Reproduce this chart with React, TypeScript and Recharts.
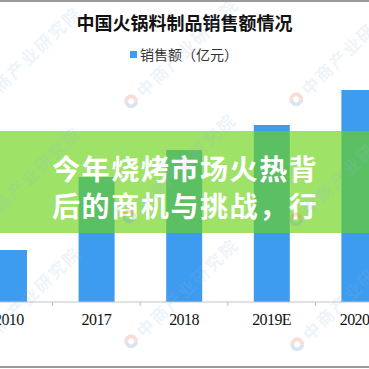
import React from "react";
import { Bar, BarChart, Legend, XAxis, YAxis } from "recharts";

const years = ["2010", "2017", "2018", "2019E", "2020E"];
const sales = [154, 371, 451, 525, 629];
const seriesName = "销售额（亿元）";
const title = "中国火锅料制品销售额情况";
const bannerLines = ["今年烧烤市场火热背", "后的商机与挑战，行"];
const watermarkText = "中商产业研究院";

const chartData = years.map((year, i) => ({ year, sales: sales[i] }));

const BLUE = "#3d9bf0";
const CHART_LEFT = -35;
const CHART_WIDTH = 438;
const BAND = CHART_WIDTH / years.length;
const CJK = "'Noto Sans CJK SC', 'Noto Sans', sans-serif";

// watermark anchor points (logo centers)
const marks = [
  [-30, 105], [-30, 225], [-30, 345],
  [127, 97], [125, 212], [127, 337],
  [292, 95], [292, 215], [293, 340],
];

function YearTick({ x, y, payload }: any) {
  const left = x - BAND / 2;
  return (
    <g>
      <line x1={left} x2={left} y1={y} y2={y + 4} stroke="#bdbdbd" />
      <text
        x={x}
        y={y + 23}
        textAnchor="middle"
        fontSize={16}
        letterSpacing={-0.6}
        fontFamily="'Liberation Serif', serif"
        fill="#111"
      >
        {payload.value}
      </text>
    </g>
  );
}

function SalesLegend({ payload }: any) {
  const item = payload?.[0];
  return (
    <div
      style={{
        display: "flex",
        justifyContent: "center",
        alignItems: "center",
        fontFamily: CJK,
        fontSize: 14,
        lineHeight: "20px",
        color: "#333",
      }}
    >
      <span style={{ width: 7, height: 7, background: BLUE, marginRight: 3 }} />
      {item ? item.value : seriesName}
    </div>
  );
}

function Watermark({ x, y }: { x: number; y: number }) {
  return (
    <div
      style={{
        position: "absolute",
        left: x - 7,
        top: y - 7,
        display: "flex",
        alignItems: "center",
        transform: "rotate(-44deg)",
        transformOrigin: "7px 7px",
        whiteSpace: "nowrap",
        pointerEvents: "none",
      }}
    >
      <span
        style={{
          width: 6,
          height: 6,
          borderRadius: "50%",
          border: "4px solid",
          borderColor: "rgba(235,120,100,0.25) rgba(235,120,100,0.25) rgba(110,150,200,0.25) rgba(110,150,200,0.25)",
          marginRight: 4,
        }}
      />
      <span
        style={{
          fontFamily: CJK,
          fontWeight: 700,
          fontSize: 17,
          letterSpacing: 2,
          color: "rgba(150,185,220,0.18)",
        }}
      >
        {watermarkText}
      </span>
    </div>
  );
}

export default function App() {
  return (
    <div
      style={{
        position: "absolute",
        left: 0,
        top: 0,
        width: 369,
        height: 369,
        overflow: "hidden",
        background: "#fff",
      }}
    >
      <div style={{ position: "absolute", left: CHART_LEFT, top: 0 }}>
        <BarChart
          width={CHART_WIDTH}
          height={369}
          data={chartData}
          margin={{ top: 66, right: 0, left: 0, bottom: 37 }}
        >
          <XAxis
            dataKey="year"
            height={30}
            stroke="#c4c4c4"
            tickLine={false}
            tickSize={0}
            tickMargin={0}
            interval={0}
            tick={<YearTick />}
          />
          <YAxis hide domain={[0, 700]} />
          <Legend
            layout="horizontal"
            verticalAlign="middle"
            align="center"
            wrapperStyle={{ top: 44, left: 0, width: CHART_WIDTH }}
            content={<SalesLegend />}
          />
          <Bar
            dataKey="sales"
            name={seriesName}
            fill={BLUE}
            barSize={36}
            isAnimationActive={false}
          />
        </BarChart>
      </div>

      <div
        style={{
          position: "absolute",
          left: 0,
          top: 13,
          width: 369,
          textAlign: "center",
          fontFamily: CJK,
          fontWeight: 700,
          fontSize: 18,
          lineHeight: "18px",
          color: "#111",
        }}
      >
        {title}
      </div>

      <div
        style={{
          position: "absolute",
          left: 0,
          top: 131,
          width: 369,
          height: 102,
          background: "rgba(108,211,26,0.66)",
        }}
      />
      <div
        style={{
          position: "absolute",
          left: 52,
          top: 150,
          fontFamily: CJK,
          fontWeight: 700,
          fontSize: 28,
          lineHeight: "36.5px",
          letterSpacing: 1.6,
          color: "#fff",
          whiteSpace: "nowrap",
        }}
      >
        {bannerLines.map((line) => (
          <div key={line}>{line}</div>
        ))}
      </div>

      {marks.map(([x, y]) => (
        <Watermark key={`${x}-${y}`} x={x} y={y} />
      ))}

      <div style={{ position: "absolute", left: 0, top: 0, width: 369, height: 2, background: "#9a9a9a" }} />
      <div style={{ position: "absolute", left: 0, top: 366, width: 369, height: 2, background: "#9a9a9a" }} />
    </div>
  );
}
